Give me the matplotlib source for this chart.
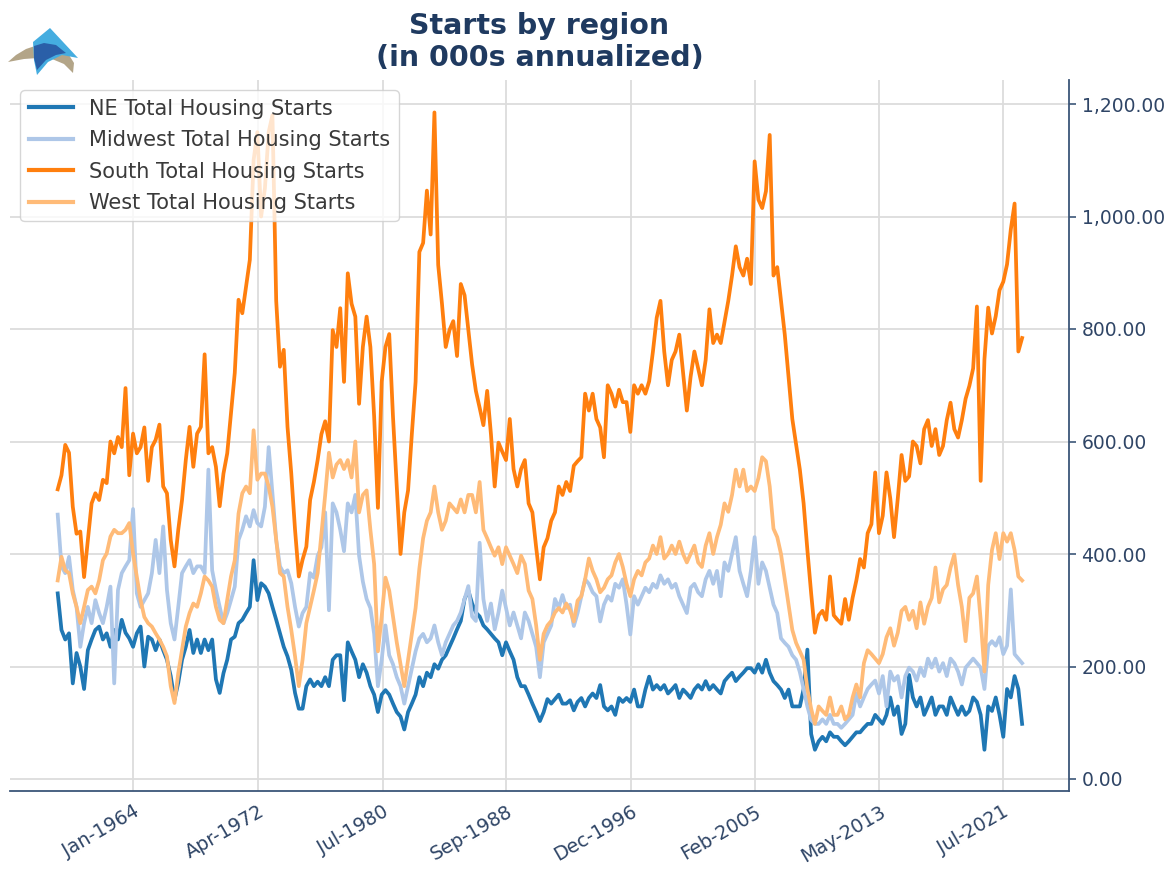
import matplotlib
matplotlib.use("Agg")
import matplotlib.pyplot as plt
import matplotlib.dates as mdates
from matplotlib.patches import Polygon
from matplotlib.ticker import FuncFormatter
import numpy as np
import pandas as pd

# ---------------- data (thousands, annualized; ~quarterly samples) ----------------
start_date = "1959-01-01"
step = "91D"

ne = [330, 265, 248, 259, 170, 224, 200, 160, 229, 248, 265, 271, 248, 259, 235, 265,
      248, 283, 260, 250, 235, 259, 271, 200, 253, 248, 229, 248, 229, 212, 183, 141,
      171, 212, 235, 265, 224, 248, 224, 248, 229, 248, 177, 153, 188, 212, 248, 253,
      277, 283, 295, 306, 389, 318, 348, 342, 330, 306, 283, 259, 235, 218, 194, 153,
      125, 125, 165, 177, 165, 173, 165, 181, 165, 212, 220, 220, 140, 243, 227, 212,
      181, 204, 189, 165, 150, 119, 150, 158, 150, 134, 119, 111, 88, 119, 134, 150,
      181, 165, 189, 181, 204, 196, 212, 220, 235, 250, 266, 281, 320, 335, 312, 296,
      289, 273, 266, 258, 250, 243, 220, 243, 227, 212, 181, 165, 165, 150, 134, 119,
      103, 119, 142, 134, 142, 150, 134, 134, 140, 122, 137, 144, 129, 144, 152, 144,
      167, 129, 122, 129, 114, 144, 137, 144, 137, 159, 129, 129, 159, 182, 159, 167,
      159, 167, 152, 159, 167, 144, 159, 152, 144, 159, 167, 159, 174, 159, 167, 159,
      152, 174, 182, 189, 174, 182, 189, 197, 197, 189, 204, 189, 212, 189, 174, 167,
      159, 144, 159, 129, 129, 129, 160, 230, 80, 52, 67, 75, 67, 83, 75, 75,
      67, 60, 67, 75, 83, 83, 91, 98, 98, 114, 106, 98, 114, 145, 114, 129,
      80, 98, 185, 145, 129, 145, 114, 129, 145, 114, 129, 129, 114, 145, 129, 114,
      129, 114, 121, 145, 137, 114, 52, 129, 121, 145, 114, 75, 160, 145, 183, 160,
      98]

midwest = [470, 378, 366, 395, 336, 306, 235, 277, 306, 277, 318, 295, 277, 306, 342, 170,
           336, 366, 378, 389, 480, 330, 306, 318, 330, 366, 425, 366, 449, 336, 277, 248,
           306, 366, 378, 389, 366, 378, 378, 366, 550, 371, 336, 306, 277, 295, 318, 342,
           425, 443, 467, 449, 478, 455, 449, 484, 590, 508, 425, 378, 366, 371, 348, 306,
           271, 295, 306, 366, 358, 397, 412, 474, 300, 490, 474, 443, 405, 490, 474, 505,
           397, 351, 320, 304, 258, 165, 212, 273, 220, 204, 181, 165, 134, 165, 196, 227,
           250, 258, 243, 250, 273, 243, 220, 243, 258, 273, 281, 296, 320, 343, 289, 281,
           420, 320, 281, 312, 266, 296, 335, 304, 273, 296, 273, 250, 296, 281, 258, 235,
           181, 243, 258, 273, 320, 304, 327, 304, 310, 272, 295, 325, 355, 347, 332, 325,
           280, 310, 325, 317, 347, 340, 355, 310, 257, 325, 310, 325, 340, 332, 347, 340,
           362, 347, 355, 340, 347, 325, 310, 295, 340, 347, 332, 325, 355, 370, 347, 370,
           325, 385, 370, 400, 430, 370, 347, 325, 370, 430, 347, 385, 370, 340, 310, 295,
           250, 242, 235, 220, 212, 190, 160, 129, 105, 98, 98, 106, 98, 114, 98, 98,
           91, 98, 106, 114, 152, 129, 145, 160, 168, 175, 152, 183, 129, 191, 175, 183,
           145, 183, 198, 191, 175, 198, 183, 214, 198, 214, 191, 206, 183, 214, 206, 191,
           168, 198, 206, 214, 206, 198, 160, 237, 245, 237, 252, 222, 237, 337, 222, 214,
           206]

south = [515, 540, 594, 580, 484, 436, 440, 359, 425, 490, 508, 496, 532, 526, 600, 579,
         608, 590, 695, 540, 614, 579, 590, 625, 530, 590, 603, 630, 520, 508, 425, 378,
         443, 496, 567, 626, 555, 614, 626, 755, 579, 590, 555, 485, 543, 579, 650, 722,
         852, 828, 875, 923, 1100, 1150, 1000, 1050, 1150, 1180, 850, 733, 763, 626, 543, 443,
         360, 390, 413, 496, 528, 567, 613, 636, 600, 798, 768, 837, 706, 899, 845, 822,
         667, 768, 822, 768, 644, 482, 706, 768, 791, 644, 520, 400, 474, 513, 613, 706,
         937, 953, 1046, 968, 1185, 914, 845, 768, 798, 814, 752, 880, 860, 798, 737, 690,
         660, 629, 690, 613, 520, 598, 582, 567, 640, 551, 520, 551, 567, 490, 474, 412,
         355, 412, 428, 459, 474, 520, 505, 528, 512, 557, 565, 572, 685, 655, 685, 640,
         625, 572, 700, 685, 662, 692, 670, 670, 617, 700, 685, 700, 685, 707, 760, 820,
         850, 760, 700, 745, 760, 790, 722, 655, 715, 760, 730, 700, 745, 835, 775, 790,
         775, 812, 850, 895, 947, 910, 895, 925, 880, 1098, 1030, 1015, 1045, 1145, 895, 910,
         850, 790, 715, 640, 595, 550, 490, 407, 330, 260, 291, 299, 283, 360, 291, 283,
         276, 320, 283, 322, 353, 391, 376, 437, 453, 545, 437, 468, 545, 499, 430, 499,
         576, 530, 538, 600, 592, 561, 622, 638, 592, 622, 576, 592, 638, 669, 622, 607,
         638, 676, 699, 730, 840, 530, 746, 838, 792, 823, 869, 884, 915, 977, 1023, 760,
         784]

west = [353, 395, 371, 366, 330, 306, 277, 306, 336, 342, 330, 353, 389, 401, 431, 443,
        437, 437, 443, 455, 401, 360, 318, 288, 277, 271, 259, 248, 235, 218, 165, 135,
        188, 229, 271, 295, 312, 306, 330, 360, 353, 342, 306, 283, 277, 318, 360, 389,
        472, 508, 520, 508, 620, 532, 543, 543, 520, 484, 425, 366, 360, 306, 265, 218,
        165, 212, 277, 306, 335, 366, 436, 505, 580, 536, 559, 567, 551, 567, 536, 600,
        474, 505, 513, 443, 382, 227, 289, 358, 335, 289, 243, 204, 165, 212, 258, 304,
        374, 428, 459, 474, 520, 474, 443, 459, 490, 482, 474, 497, 474, 505, 505, 474,
        528, 443, 428, 412, 397, 412, 382, 412, 397, 382, 366, 397, 382, 335, 320, 273,
        212, 258, 273, 281, 296, 304, 296, 312, 300, 280, 317, 325, 355, 392, 370, 355,
        332, 340, 355, 362, 385, 400, 377, 347, 325, 355, 370, 362, 385, 392, 415, 400,
        430, 392, 400, 415, 400, 422, 400, 385, 400, 415, 385, 377, 415, 437, 400, 430,
        452, 490, 475, 505, 550, 520, 550, 512, 520, 512, 535, 572, 565, 520, 445, 430,
        400, 355, 310, 265, 242, 227, 212, 160, 125, 98, 129, 121, 114, 145, 114, 114,
        129, 106, 114, 145, 168, 145, 206, 229, 222, 214, 206, 222, 252, 268, 237, 260,
        299, 306, 283, 299, 268, 314, 276, 306, 322, 376, 314, 337, 345, 376, 399, 345,
        306, 245, 322, 330, 360, 283, 191, 345, 407, 437, 391, 437, 422, 437, 407, 360,
        353]

series_names = ["NE Total Housing Starts", "Midwest Total Housing Starts",
                "South Total Housing Starts", "West Total Housing Starts"]
tick_dates = ["1964-01-01", "1972-04-01", "1980-07-01", "1988-09-01",
              "1996-12-01", "2005-02-01", "2013-05-01", "2021-07-01"]
y_ticks = [0, 200, 400, 600, 800, 1000, 1200]

# ---------------- styling ----------------
colors = ["#1f77b4", "#aec7e8", "#ff7f0e", "#ffbb78"]
navy = "#1f3a60"
tick_col = "#2f4566"
spine_col = "#3c5678"

W, H = 1175, 877
fig = plt.figure(figsize=(W / 100, H / 100), dpi=100)
fig.patch.set_facecolor("white")

ax_l, ax_r, ax_t, ax_b = 10, 1069, 80, 791
ax = fig.add_axes([ax_l / W, 1 - ax_b / H, (ax_r - ax_l) / W, (ax_b - ax_t) / H])

n = len(south)
assert len(ne) == len(midwest) == len(west) == n
dates = pd.date_range(start_date, periods=n, freq=step)

for vals, name, c in zip([ne, midwest, south, west], series_names, colors):
    ax.plot(dates, vals, color=c, lw=2.7, label=name)

# axes limits from pixel geometry
t0 = mdates.date2num(pd.Timestamp(tick_dates[0]))
t1 = mdates.date2num(pd.Timestamp(tick_dates[-1]))
px0, px1 = 133.3, 1002.7
ppd = (px1 - px0) / (t1 - t0)
ax.set_xlim(t0 - (px0 - ax_l) / ppd, t0 + (ax_r - px0) / ppd)
y0px, y1200px = 779, 104
ppu = (y0px - y1200px) / 1200
ax.set_ylim(-(ax_b - y0px) / ppu, 1200 + (y1200px - ax_t) / ppu)

ax.set_xticks([mdates.date2num(pd.Timestamp(d)) for d in tick_dates])
ax.xaxis.set_major_formatter(mdates.DateFormatter("%b-%Y"))
ax.set_yticks(y_ticks)
ax.yaxis.set_major_formatter(FuncFormatter(lambda v, p: f"{v:,.2f}"))
ax.yaxis.tick_right()

for lab in ax.get_xticklabels():
    lab.set_rotation(30)
    lab.set_ha("right")
    lab.set_rotation_mode("anchor")

ax.tick_params(axis="x", length=0, labelsize=13.8, labelcolor=tick_col, pad=8)
ax.tick_params(axis="y", length=5, width=1.2, color=spine_col, labelsize=13.5,
               labelcolor=tick_col, pad=4)

ax.grid(True, color="#dcdcdc", lw=1.3)
ax.set_axisbelow(True)
for s in ["top", "left"]:
    ax.spines[s].set_visible(False)
for s in ["bottom", "right"]:
    ax.spines[s].set_color(spine_col)
    ax.spines[s].set_linewidth(1.3)

leg = ax.legend(loc="upper left", fontsize=15, frameon=True, fancybox=True,
                framealpha=0.8, edgecolor="#cccccc", borderaxespad=0.5,
                handlelength=2.1, labelspacing=0.55)
for t in leg.get_texts():
    t.set_color("#3a3a3a")
for l in leg.get_lines():
    l.set_linewidth(3)

ax.set_title("Starts by region\n(in 000s annualized)", fontsize=20.5,
             fontweight="bold", color=navy, pad=10, linespacing=1.2)

# ---------------- logo (top-left), coordinates in figure pixels ----------------
lax = fig.add_axes([0, 1 - 80 / H, 90 / W, 60 / H])
lax.set_xlim(0, 90)
lax.set_ylim(80, 20)
lax.axis("off")
tan = [(8, 62), (16, 55), (26, 49), (38, 45), (50, 44), (61, 48), (69, 55),
       (74, 63), (73, 73), (64, 64), (52, 59), (38, 58), (24, 59)]
light = [(33, 42), (50, 28), (78, 58), (62, 55), (48, 62), (37, 75), (34, 60)]
dark = [(34, 46), (44, 43), (56, 45), (66, 53), (56, 55), (46, 60), (37, 70), (34, 58)]
lax.add_patch(Polygon(tan, closed=True, fc="#b3a588", ec="none"))
lax.add_patch(Polygon(light, closed=True, fc="#45ade0", ec="none"))
lax.add_patch(Polygon(dark, closed=True, fc="#2a5fa8", ec="none"))

fig.savefig("out.png", dpi=100)
